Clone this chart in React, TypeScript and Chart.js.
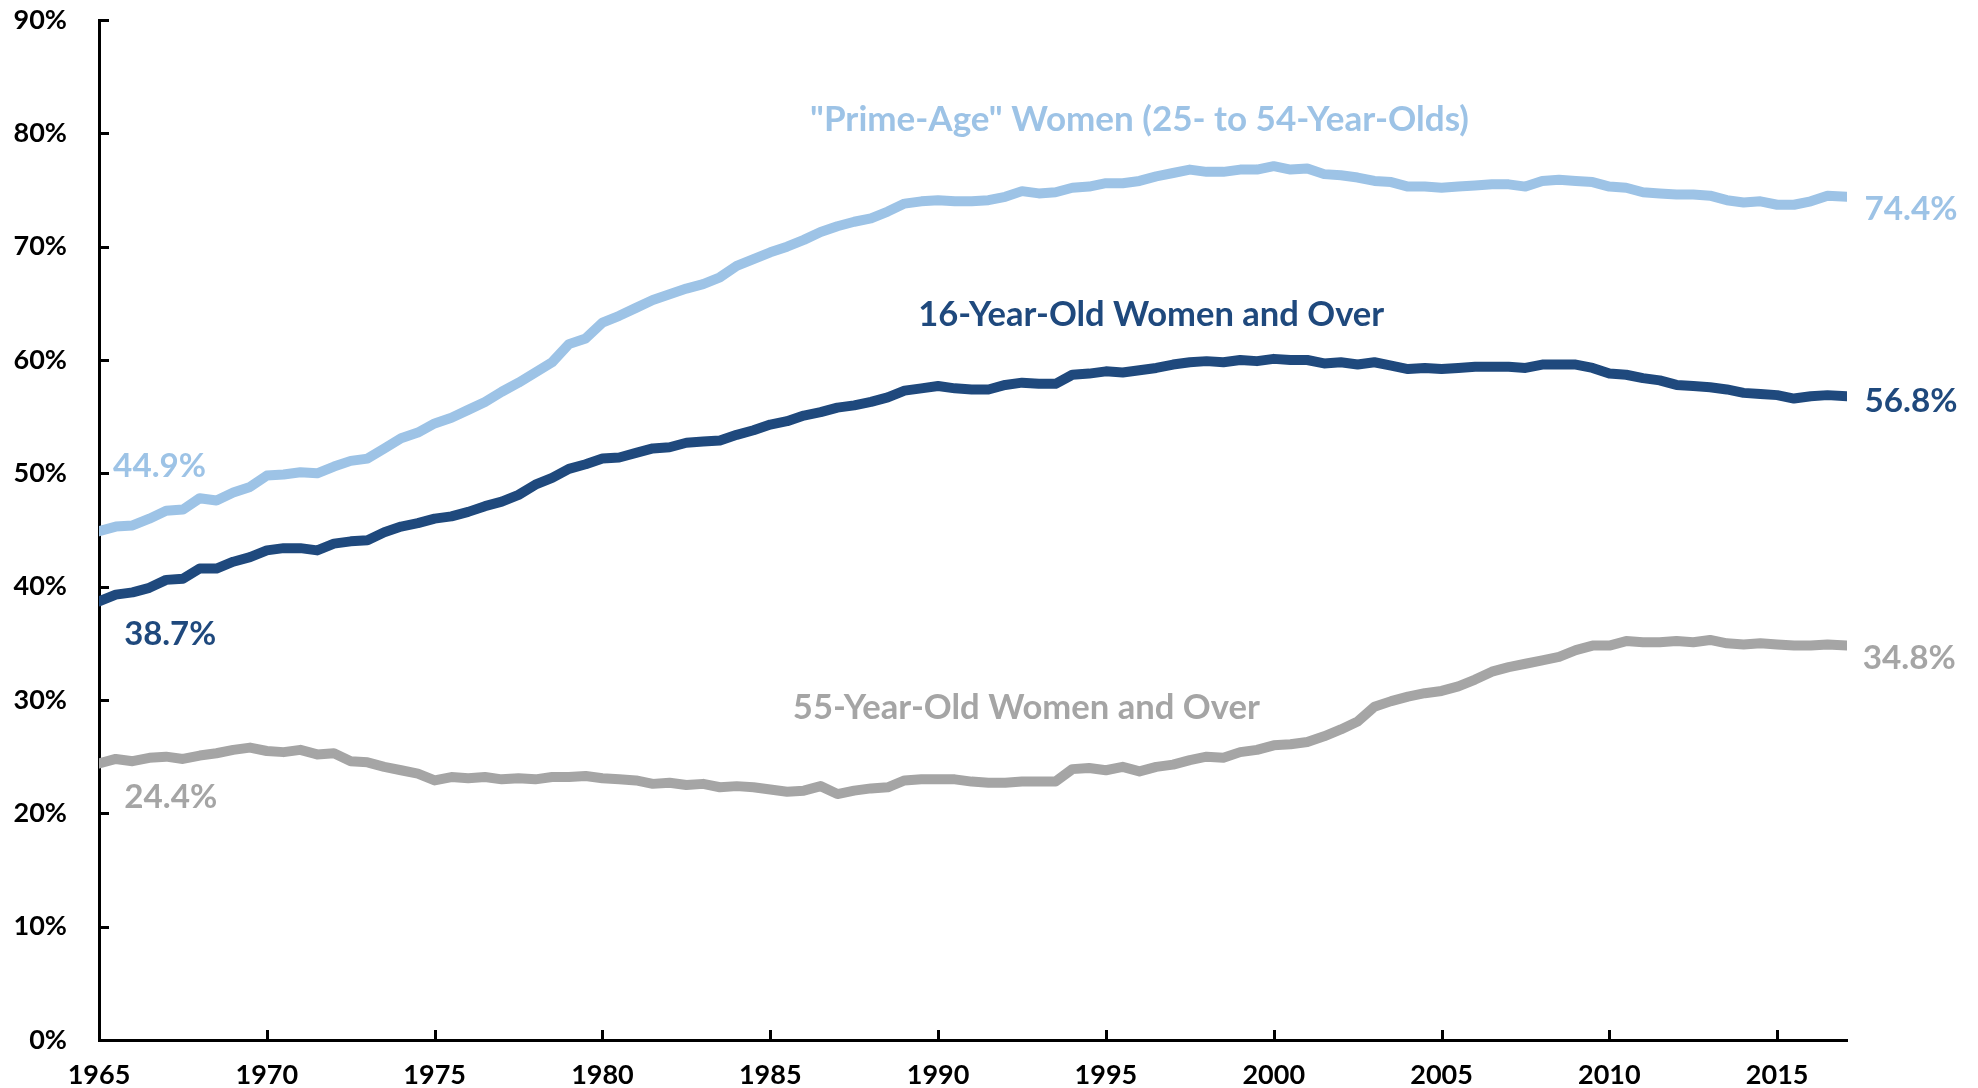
import React, { useEffect, useRef } from "react";
import { Chart, registerables } from "chart.js";

Chart.register(...registerables);

// Time points (decimal years, roughly half-yearly readings)
const periods = [
  1965.0, 1965.5, 1966.0, 1966.5, 1967.0, 1967.5, 1968.0, 1968.5, 1969.0, 1969.5,
  1970.0, 1970.5, 1971.0, 1971.5, 1972.0, 1972.5, 1973.0, 1973.5, 1974.0, 1974.5,
  1975.0, 1975.5, 1976.0, 1976.5, 1977.0, 1977.5, 1978.0, 1978.5, 1979.0, 1979.5,
  1980.0, 1980.5, 1981.0, 1981.5, 1982.0, 1982.5, 1983.0, 1983.5, 1984.0, 1984.5,
  1985.0, 1985.5, 1986.0, 1986.5, 1987.0, 1987.5, 1988.0, 1988.5, 1989.0, 1989.5,
  1990.0, 1990.5, 1991.0, 1991.5, 1992.0, 1992.5, 1993.0, 1993.5, 1994.0, 1994.5,
  1995.0, 1995.5, 1996.0, 1996.5, 1997.0, 1997.5, 1998.0, 1998.5, 1999.0, 1999.5,
  2000.0, 2000.5, 2001.0, 2001.5, 2002.0, 2002.5, 2003.0, 2003.5, 2004.0, 2004.5,
  2005.0, 2005.5, 2006.0, 2006.5, 2007.0, 2007.5, 2008.0, 2008.5, 2009.0, 2009.5,
  2010.0, 2010.5, 2011.0, 2011.5, 2012.0, 2012.5, 2013.0, 2013.5, 2014.0, 2014.5,
  2015.0, 2015.5, 2016.0, 2016.5, 2017.08,
];

// "Prime-Age" women (25-54) participation rate, %
const primeAge = [
  44.9, 45.3, 45.4, 46.0, 46.7, 46.8, 47.8, 47.6, 48.3, 48.8,
  49.8, 49.9, 50.1, 50.0, 50.6, 51.1, 51.3, 52.2, 53.1, 53.6,
  54.4, 54.9, 55.6, 56.3, 57.2, 58.0, 58.9, 59.8, 61.4, 61.9,
  63.3, 63.9, 64.6, 65.3, 65.8, 66.3, 66.7, 67.3, 68.3, 68.9,
  69.5, 70.0, 70.6, 71.3, 71.8, 72.2, 72.5, 73.1, 73.8, 74.0,
  74.1, 74.0, 74.0, 74.1, 74.4, 74.9, 74.7, 74.8, 75.2, 75.3,
  75.6, 75.6, 75.8, 76.2, 76.5, 76.8, 76.6, 76.6, 76.8, 76.8,
  77.1, 76.8, 76.9, 76.4, 76.3, 76.1, 75.8, 75.7, 75.3, 75.3,
  75.2, 75.3, 75.4, 75.5, 75.5, 75.3, 75.8, 75.9, 75.8, 75.7,
  75.3, 75.2, 74.8, 74.7, 74.6, 74.6, 74.5, 74.1, 73.9, 74.0,
  73.7, 73.7, 74.0, 74.5, 74.4,
];

// Women 16 and over participation rate, %
const women16 = [
  38.7, 39.3, 39.5, 39.9, 40.6, 40.7, 41.6, 41.6, 42.2, 42.6,
  43.2, 43.4, 43.4, 43.2, 43.8, 44.0, 44.1, 44.8, 45.3, 45.6,
  46.0, 46.2, 46.6, 47.1, 47.5, 48.1, 49.0, 49.6, 50.4, 50.8,
  51.3, 51.4, 51.8, 52.2, 52.3, 52.7, 52.8, 52.9, 53.4, 53.8,
  54.3, 54.6, 55.1, 55.4, 55.8, 56.0, 56.3, 56.7, 57.3, 57.5,
  57.7, 57.5, 57.4, 57.4, 57.8, 58.0, 57.9, 57.9, 58.7, 58.8,
  59.0, 58.9, 59.1, 59.3, 59.6, 59.8, 59.9, 59.8, 60.0, 59.9,
  60.1, 60.0, 60.0, 59.7, 59.8, 59.6, 59.8, 59.5, 59.2, 59.3,
  59.2, 59.3, 59.4, 59.4, 59.4, 59.3, 59.6, 59.6, 59.6, 59.3,
  58.8, 58.7, 58.4, 58.2, 57.8, 57.7, 57.6, 57.4, 57.1, 57.0,
  56.9, 56.6, 56.8, 56.9, 56.8,
];

// Women 55 and over participation rate, %
const women55 = [
  24.4, 24.8, 24.6, 24.9, 25.0, 24.8, 25.1, 25.3, 25.6, 25.8,
  25.5, 25.4, 25.6, 25.2, 25.3, 24.6, 24.5, 24.1, 23.8, 23.5,
  22.9, 23.2, 23.1, 23.2, 23.0, 23.1, 23.0, 23.2, 23.2, 23.3,
  23.1, 23.0, 22.9, 22.6, 22.7, 22.5, 22.6, 22.3, 22.4, 22.3,
  22.1, 21.9, 22.0, 22.4, 21.7, 22.0, 22.2, 22.3, 22.9, 23.0,
  23.0, 23.0, 22.8, 22.7, 22.7, 22.8, 22.8, 22.8, 23.9, 24.0,
  23.8, 24.1, 23.7, 24.1, 24.3, 24.7, 25.0, 24.9, 25.4, 25.6,
  26.0, 26.1, 26.3, 26.8, 27.4, 28.1, 29.4, 29.9, 30.3, 30.6,
  30.8, 31.2, 31.8, 32.5, 32.9, 33.2, 33.5, 33.8, 34.4, 34.8,
  34.8, 35.2, 35.1, 35.1, 35.2, 35.1, 35.3, 35.0, 34.9, 35.0,
  34.9, 34.8, 34.8, 34.9, 34.8,
];

const xTickValues = [1965, 1970, 1975, 1980, 1985, 1990, 1995, 2000, 2005, 2010, 2015];
const yTickValues = [0, 10, 20, 30, 40, 50, 60, 70, 80, 90];

const seriesNames = [
  '"Prime-Age" Women (25- to 54-Year-Olds)',
  "16-Year-Old Women and Over",
  "55-Year-Old Women and Over",
];
const startLabels = ["44.9%", "38.7%", "24.4%"];
const endLabels = ["74.4%", "56.8%", "34.8%"];

const LIGHT = "#9DC3E6";
const DARK = "#1F497D";
const GRAY = "#A5A5A5";
const FONT = "Lato, 'Open Sans', sans-serif";
const TICK_SIZE = 27;

type Note = { text: string; x: number; y: number; color: string; align: CanvasTextAlign; width: number };

const notes: Note[] = [
  { text: seriesNames[0], x: 1996.0, y: 81.2, color: LIGHT, align: "center", width: 659 },
  { text: seriesNames[1], x: 1996.35, y: 64.0, color: DARK, align: "center", width: 466 },
  { text: seriesNames[2], x: 1992.63, y: 29.3, color: GRAY, align: "center", width: 467 },
  { text: endLabels[0], x: 2017.6, y: 73.3, color: LIGHT, align: "left", width: 93 },
  { text: endLabels[1], x: 2017.6, y: 56.4, color: DARK, align: "left", width: 93 },
  { text: endLabels[2], x: 2017.55, y: 33.7, color: GRAY, align: "left", width: 93 },
  { text: startLabels[0], x: 1965.42, y: 50.6, color: LIGHT, align: "left", width: 93 },
  { text: startLabels[1], x: 1965.75, y: 35.8, color: DARK, align: "left", width: 92 },
  { text: startLabels[2], x: 1965.75, y: 21.4, color: GRAY, align: "left", width: 93 },
];

const annotationPlugin = {
  id: "notes",
  afterDatasetsDraw(chart: any) {
    const { ctx, scales } = chart;
    ctx.save();
    ctx.textBaseline = "middle";
    for (const n of notes) {
      ctx.font = `bold 30px ${FONT}`;
      const w = ctx.measureText(n.text).width;
      const size = (30 * n.width) / w;
      ctx.font = `bold ${size.toFixed(2)}px ${FONT}`;
      ctx.fillStyle = n.color;
      ctx.textAlign = n.align;
      ctx.fillText(n.text, scales.x.getPixelForValue(n.x), scales.y.getPixelForValue(n.y));
    }
    ctx.restore();
  },
};

const axisDecorPlugin = {
  id: "axisDecor",
  afterDraw(chart: any) {
    const { ctx, scales, chartArea } = chart;
    ctx.save();
    // inward tick marks
    ctx.strokeStyle = "#000";
    ctx.lineWidth = 3;
    ctx.beginPath();
    for (const v of yTickValues) {
      const y = Math.round(scales.y.getPixelForValue(v)) + 0.5;
      ctx.moveTo(chartArea.left, y);
      ctx.lineTo(chartArea.left + 10, y);
    }
    for (const v of xTickValues) {
      const x = Math.round(scales.x.getPixelForValue(v)) + 0.5;
      ctx.moveTo(x, chartArea.bottom);
      ctx.lineTo(x, chartArea.bottom - 10);
    }
    ctx.stroke();
    // y tick labels
    ctx.fillStyle = "#000";
    ctx.font = `bold ${TICK_SIZE}px ${FONT}`;
    ctx.textAlign = "right";
    ctx.textBaseline = "middle";
    for (const v of yTickValues) {
      ctx.fillText(`${v}%`, chartArea.left - 32, scales.y.getPixelForValue(v));
    }
    ctx.restore();
  },
};

export default function App() {
  const ref = useRef<HTMLCanvasElement | null>(null);

  useEffect(() => {
    if (!ref.current) return;
    const mk = (vals: number[], color: string, label: string) => ({
      label,
      data: periods.map((p, i) => ({ x: p, y: vals[i] })),
      borderColor: color,
      backgroundColor: color,
      borderWidth: 10,
      pointRadius: 0,
      tension: 0,
      borderJoinStyle: "round" as const,
      borderCapStyle: "round" as const,
      fill: false,
    });
    const tickFont = { family: FONT, size: TICK_SIZE, weight: "bold" as const };
    const chart = new Chart(ref.current, {
      type: "line",
      data: {
        datasets: [
          mk(primeAge, LIGHT, seriesNames[0]),
          mk(women16, DARK, seriesNames[1]),
          mk(women55, GRAY, seriesNames[2]),
        ],
      },
      options: {
        animation: false,
        responsive: false,
        devicePixelRatio: 1,
        layout: { padding: { top: 20, right: 131, left: 0, bottom: 0 } },
        plugins: { legend: { display: false }, tooltip: { enabled: false } },
        scales: {
          x: {
            type: "linear",
            min: 1965,
            max: periods[periods.length - 1],
            afterBuildTicks: (s: any) => {
              s.ticks = xTickValues.map((v) => ({ value: v }));
            },
            afterFit: (s: any) => {
              s.height = 48;
            },
            grid: { display: false },
            border: { display: true, color: "#000", width: 3 },
            ticks: {
              font: tickFont,
              color: "#000",
              padding: 11,
              maxRotation: 0,
              autoSkip: false,
              callback: (v: any) => String(v),
            },
          },
          y: {
            type: "linear",
            min: 0,
            max: 90,
            afterBuildTicks: (s: any) => {
              s.ticks = yTickValues.map((v) => ({ value: v }));
            },
            afterFit: (s: any) => {
              s.width = 99;
            },
            grid: { display: false },
            border: { display: true, color: "#000", width: 3 },
            ticks: { display: false },
          },
        },
      },
      plugins: [annotationPlugin, axisDecorPlugin],
    });
    return () => chart.destroy();
  }, []);

  return (
    <div style={{ position: "absolute", left: 0, top: 0, width: 1978, height: 1088, background: "#fff" }}>
      <canvas ref={ref} width={1978} height={1088} style={{ display: "block" }} />
    </div>
  );
}
